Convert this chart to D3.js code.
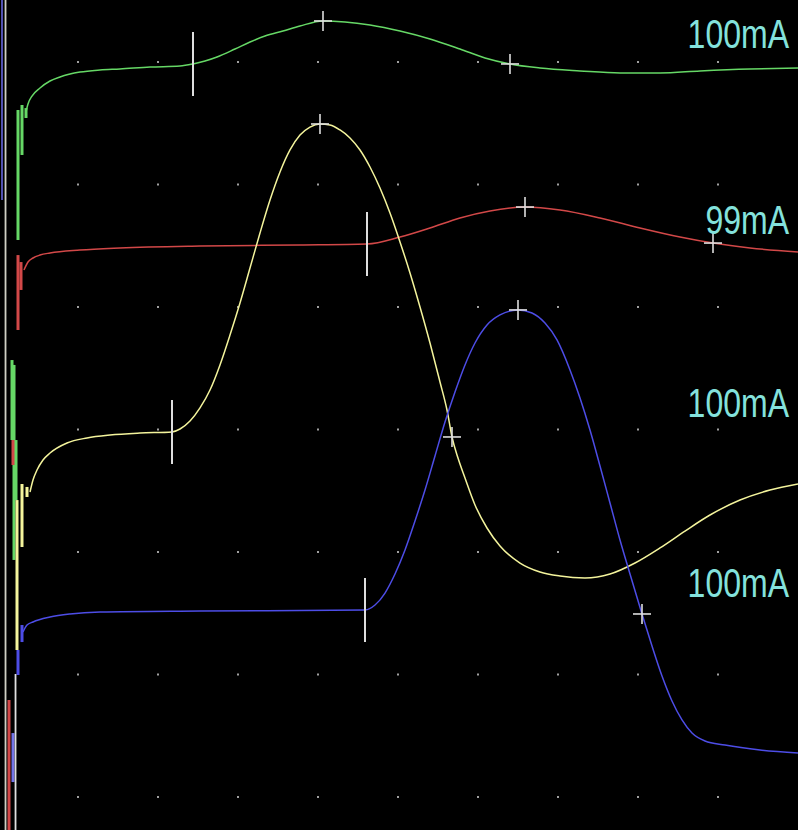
<!DOCTYPE html>
<html>
<head>
<meta charset="utf-8">
<script src="https://cdn.jsdelivr.net/npm/d3@7"></script>
<style>
  html, body { margin: 0; padding: 0; background: #000; }
  svg { display: block; }
</style>
</head>
<body>
<svg id="scope" width="798" height="830"></svg>
<script>
// Four pressure channels on a time base of 10 s; vertical unit = 1/10 of a grid division.
const channelNames = ["ch1", "ch2", "ch3", "ch4"];
const channelColors = ["#66d866", "#d24848", "#f4f49c", "#4d4de6"];
const channelLabels = ["100mA", "99mA", "100mA", "100mA"];
const labelLevels = [61.14, 45.96, 31.02, 16.33];

// [time (s), level]
const ch1 = [[0.35,55.92],[0.375,56.57],[0.425,57.22],[0.525,57.88],[0.65,58.45],[0.775,58.78],[1.025,59.18],[1.275,59.35],[1.525,59.43],[1.9,59.59],[2.275,59.67],[2.4375,59.84],[2.5875,60.08],[2.7375,60.41],[2.9625,61.06],[3.15,61.63],[3.3375,62.12],[3.5625,62.53],[3.775,62.94],[4.0625,63.35],[4.3375,63.27],[4.65,63.02],[5.025,62.53],[5.4,61.88],[5.775,61.06],[6.0875,60.33],[6.4,59.84],[6.775,59.51],[7.275,59.27],[7.775,59.10],[8.275,59.10],[8.775,59.27],[9.4,59.43],[10.0,59.51]];
const ch2 = [[0.325,43.02],[0.375,43.67],[0.4375,44.0],[0.525,44.24],[0.65,44.41],[1.025,44.65],[1.525,44.82],[2.525,44.98],[3.775,45.06],[4.6125,45.14],[5.025,45.71],[5.4,46.45],[5.775,47.27],[6.15,47.84],[6.5875,48.16],[7.025,47.92],[7.525,47.27],[8.025,46.45],[8.525,45.71],[8.9375,45.22],[9.4,44.82],[10.0,44.49]];
const ch3 = [[0.4,24.90],[0.4375,25.88],[0.4875,26.69],[0.5625,27.51],[0.65,28.08],[0.8625,28.90],[1.1125,29.31],[1.4,29.55],[1.775,29.71],[2.175,29.80],[2.275,30.04],[2.4,30.69],[2.525,31.76],[2.65,33.22],[2.775,35.27],[2.9,37.71],[3.025,40.33],[3.15,43.18],[3.275,46.04],[3.4,48.73],[3.525,51.02],[3.65,52.82],[3.775,54.04],[3.9,54.69],[4.025,54.94],[4.15,54.86],[4.275,54.45],[4.4,53.80],[4.525,52.82],[4.65,51.43],[4.775,49.71],[4.9,47.67],[5.025,45.31],[5.15,42.78],[5.275,40.0],[5.4,37.06],[5.525,33.88],[5.6125,31.59],[5.675,29.39],[5.75,27.67],[5.8375,26.04],[5.9625,23.84],[6.1125,21.96],[6.275,20.49],[6.525,19.10],[6.775,18.37],[7.025,18.04],[7.3375,17.88],[7.65,18.20],[7.9625,19.10],[8.275,20.33],[8.5875,21.71],[8.9,23.02],[9.275,24.24],[9.65,25.06],[10.0,25.55]];
const ch4 = [[0.3125,13.47],[0.3625,14.04],[0.4375,14.29],[0.65,14.69],[0.9,14.94],[1.275,15.10],[2.525,15.18],[4.5875,15.27],[4.7125,15.67],[4.8375,16.65],[4.9625,18.20],[5.0875,20.16],[5.2125,22.53],[5.3375,25.06],[5.4625,27.84],[5.5875,30.61],[5.7125,33.06],[5.8375,35.27],[5.9625,37.06],[6.1125,38.53],[6.275,39.35],[6.5,39.76],[6.675,39.51],[6.8375,38.69],[6.9875,37.31],[7.15,34.86],[7.275,32.57],[7.4,29.96],[7.525,27.02],[7.65,24.0],[7.775,20.98],[7.9,18.20],[8.05,14.94],[8.175,12.33],[8.3,9.88],[8.425,7.84],[8.55,6.29],[8.675,5.22],[8.8375,4.57],[9.0875,4.24],[9.525,3.84],[10.0,3.59]];
const channelData = [ch1, ch2, ch3, ch4];

// Start-of-sweep settling artefacts: [channel index (-1 = frame), time, level from, level to, colour override]
const leadIn = [
  [-1, 0.05, 65.06, 48.73, "#5b5bc4"],
  [-1, 0.094, 65.06, -2.7, "#cfcfc4"],
  [0, 0.25, 56.08, 45.47, null],
  [0, 0.30, 56.49, 52.41, null],
  [0, 0.35, 56.24, 55.43, null],
  [0, 0.175, 35.67, 29.14, null],
  [0, 0.20, 35.27, 19.35, null],
  [0, 0.225, 29.14, 24.24, null],
  [1, 0.25, 44.24, 38.12, null],
  [1, 0.2875, 43.67, 41.39, null],
  [1, 0.1875, 29.14, 27.10, null],
  [1, 0.1375, 7.92, -2.7, null],
  [2, 0.2375, 24.24, 12.00, null],
  [2, 0.30, 25.55, 20.41, null],
  [2, 0.3625, 25.31, 24.49, null],
  [3, 0.25, 12.00, 9.96, null],
  [3, 0.30, 14.04, 12.65, null],
  [3, 0.1875, 5.22, 1.22, "#7474e8"],
  [-1, 0.219, 10.04, -2.7, "#e0e0e0"]
];

// Cursor marks: [channel, time, level, kind] — kind "long" = onset tick, "cross" = event cross
const marks = [
  [0, 2.4375, 59.84, "long"], [0, 4.0625, 63.35, "cross"], [0, 6.4, 59.84, "cross"],
  [1, 4.6125, 45.14, "long"], [1, 6.5875, 48.16, "cross"], [1, 8.9375, 45.22, "cross"],
  [2, 2.175, 29.80, "long"], [2, 4.025, 54.94, "cross"], [2, 5.675, 29.39, "cross"],
  [3, 4.5875, 15.27, "long"], [3, 6.5, 39.76, "cross"], [3, 8.05, 14.94, "cross"]
];

const gridTimes = [1, 2, 3, 4, 5, 6, 7, 8, 9];
const gridLevels = [0, 10, 20, 30, 40, 50, 60];

const svg = d3.select("#scope");
const W = 798, H = 830;

const x = d3.scaleLinear().domain([0, 10]).range([-2, 798]);
const y = d3.scaleLinear().domain([0, 60]).range([797, 62]);

svg.append("rect").attr("width", W).attr("height", H).attr("fill", "#000");

// dotted graticule
const dots = svg.append("g");
gridLevels.forEach(lv => {
  gridTimes.forEach(t => {
    dots.append("rect")
      .attr("x", x(t) - 1).attr("y", y(lv) - 1)
      .attr("width", 2).attr("height", 2)
      .attr("fill", "#a0a0a0");
  });
});

// settling artefacts
const lead = svg.append("g");
leadIn.forEach(([ci, t, a, b, col]) => {
  lead.append("line")
    .attr("x1", x(t)).attr("x2", x(t))
    .attr("y1", y(a)).attr("y2", y(b))
    .attr("stroke", col || channelColors[ci])
    .attr("stroke-width", ci < 0 ? 1.8 : 3);
});

// traces
const line = d3.line().x(d => x(d[0])).y(d => y(d[1])).curve(d3.curveMonotoneX);
const traces = svg.append("g");
channelData.forEach((data, i) => {
  traces.append("path")
    .attr("d", line(data))
    .attr("fill", "none")
    .attr("stroke", channelColors[i])
    .attr("stroke-width", 1.5)
    .attr("stroke-linejoin", "round");
});

// cursors
const cur = svg.append("g").attr("stroke", "#dedede");
marks.forEach(([ci, t, lv, kind]) => {
  const cx = x(t), cy = y(lv);
  if (kind === "long") {
    cur.append("line").attr("x1", cx).attr("x2", cx)
      .attr("y1", cy - 32).attr("y2", cy + 32).attr("stroke-width", 2);
  } else {
    cur.append("line").attr("x1", cx).attr("x2", cx)
      .attr("y1", cy - 10).attr("y2", cy + 10).attr("stroke-width", 1.6);
    cur.append("line").attr("x1", cx - 9).attr("x2", cx + 9)
      .attr("y1", cy).attr("y2", cy).attr("stroke-width", 1.6);
  }
});

// channel amplitude labels
const labels = svg.append("g");
channelLabels.forEach((txt, i) => {
  labels.append("text")
    .attr("transform", `translate(789,${y(labelLevels[i])}) scale(0.8,1)`)
    .attr("text-anchor", "end")
    .attr("font-family", "'Liberation Sans', Arial, sans-serif")
    .attr("font-size", 40)
    .attr("fill", "#84e2dc")
    .text(txt);
});
</script>
</body>
</html>
